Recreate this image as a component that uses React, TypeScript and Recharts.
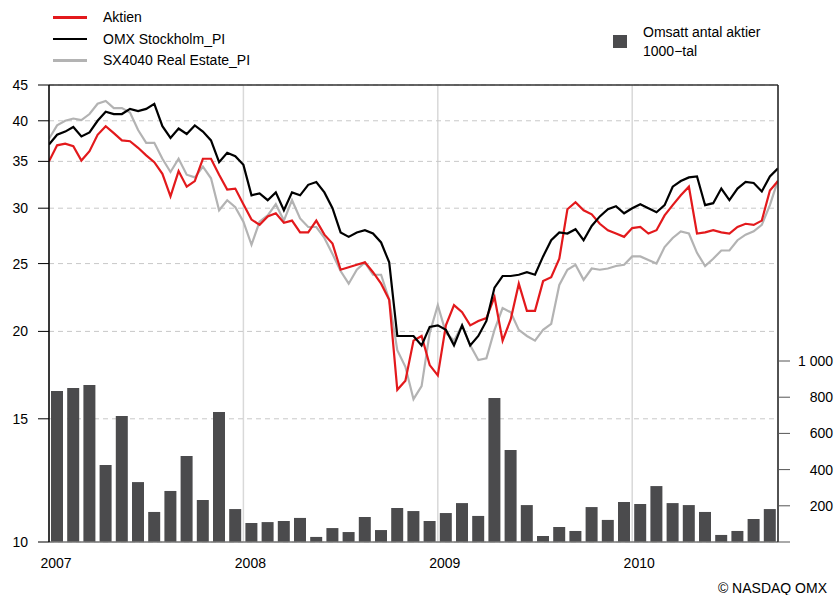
import {
  Bar,
  CartesianGrid,
  ComposedChart,
  Line,
  ReferenceLine,
  XAxis,
  YAxis,
} from 'recharts'

// half-month samples, Jan 2007 -> end of Sep 2010
const aktien = [
  35.0, 36.9, 37.1, 36.8, 35.1, 36.2, 38.2, 39.3, 38.4, 37.5,
  37.4, 36.6, 35.7, 34.9, 33.6, 31.2, 33.9, 32.2, 32.8, 35.3,
  35.3, 33.5, 31.9, 32.0, 30.4, 28.9, 28.4, 29.2, 29.5, 28.6,
  28.8, 27.7, 27.7, 28.8, 27.5, 26.7, 24.5, 24.7, 24.9, 25.1,
  24.3, 23.4, 22.2, 16.5, 17.0, 19.4, 19.7, 17.9, 17.3, 20.4,
  21.8, 21.3, 20.4, 20.7, 20.9, 22.4, 19.4, 20.8, 23.4, 21.4,
  21.4, 23.6, 23.9, 25.4, 29.9, 30.6, 29.8, 29.4, 28.5, 27.9,
  27.6, 27.3, 28.1, 28.2, 27.6, 27.9, 29.3, 30.3, 31.3, 32.2,
  27.6, 27.7, 27.9, 27.7, 27.6, 28.2, 28.5, 28.4, 28.8, 31.8,
  32.8,
]

const omx = [
  37.0, 38.2, 38.6, 39.2, 38.0, 38.5, 40.0, 41.2, 40.9, 40.9,
  41.6, 41.3, 41.6, 42.3, 39.3, 37.8, 39.0, 38.3, 39.4, 38.6,
  37.5, 34.9, 36.0, 35.6, 34.6, 31.3, 31.5, 30.8, 31.6, 29.8,
  31.6, 31.3, 32.4, 32.7, 31.6, 30.0, 27.7, 27.3, 27.7, 27.9,
  27.6, 26.8, 25.1, 19.7, 19.7, 19.7, 19.1, 20.3, 20.4, 20.1,
  19.1, 20.4, 19.1, 19.7, 20.7, 23.1, 24.0, 24.0, 24.1, 24.3,
  24.1, 25.6, 27.0, 27.7, 27.6, 28.0, 27.0, 28.3, 29.2, 29.9,
  30.2, 29.5, 30.0, 30.4, 30.0, 29.6, 30.3, 32.2, 32.8, 33.2,
  33.3, 30.3, 30.5, 32.0, 30.8, 32.0, 32.7, 32.6, 31.7, 33.3,
  34.2,
]

const sx4040 = [
  37.7, 39.4, 40.0, 40.3, 40.1, 40.9, 42.3, 42.7, 41.7, 41.7,
  41.1, 38.8, 37.2, 37.2, 35.3, 33.8, 35.3, 33.5, 33.2, 34.4,
  33.1, 29.8, 30.8, 30.1, 28.7, 26.6, 28.7, 29.3, 30.4, 28.8,
  30.8, 29.0, 28.2, 28.2, 27.2, 25.8, 24.4, 23.4, 24.5, 25.1,
  24.1, 24.1, 22.2, 18.8, 17.8, 16.0, 16.7, 19.9, 21.8, 19.9,
  19.4, 20.4, 19.1, 18.2, 18.3, 20.1, 21.6, 21.3, 20.1, 19.7,
  19.4, 20.1, 20.5, 23.3, 24.5, 24.9, 23.7, 24.6, 24.5, 24.6,
  24.8, 24.9, 25.6, 25.6, 25.3, 25.0, 26.4, 27.2, 27.8, 27.6,
  25.9, 24.8, 25.4, 26.1, 26.1, 27.0, 27.5, 27.8, 28.4, 30.3,
  32.9,
]

// monthly turnover, 1000s of shares
const volume = [
  834, 851, 867, 425, 696, 331, 166, 282, 475, 232, 718, 182,
  105, 110, 116, 133, 28, 77, 55, 138, 66, 188, 171, 116,
  160, 215, 144, 796, 508, 204, 33, 83, 61, 193, 122, 221,
  210, 309, 215, 204, 166, 39, 61, 127, 182,
]

const yearTicks = [0, 12, 24, 36]
const yearLabels = ['2007', '2008', '2009', '2010']
const leftTicks = [10, 15, 20, 25, 30, 35, 40, 45]
const rightTicks = [0, 200, 400, 600, 800, 1000]

const data = aktien.map((v, k) => ({
  t: k / 2,
  bt: k % 2 === 1 ? k / 2 : undefined,
  aktien: v,
  omx: omx[k],
  sx: sx4040[k],
  vol: k % 2 === 1 ? volume[(k - 1) / 2] : undefined,
}))

const FONT = '"Liberation Sans", Arial, sans-serif'

function YearTick(props: any) {
  const { x, y, payload } = props
  const i = yearTicks.indexOf(payload.value)
  return (
    <text x={x + 7} y={y + 18} textAnchor="middle" fontSize={14} fill="#000" fontFamily={FONT}>
      {yearLabels[i]}
    </text>
  )
}

function RightTick(props: any) {
  const { x, y, payload } = props
  if (payload.value === 0) return <g />
  const label = String(payload.value).replace(/\B(?=(\d{3})+(?!\d))/g, ' ')
  return (
    <text x={x + 41} y={y} dy="0.35em" textAnchor="end" fontSize={14} fill="#000" fontFamily={FONT}>
      {label}
    </text>
  )
}

const legendLines = [
  { name: 'Aktien', color: '#e3191c' },
  { name: 'OMX Stockholm_PI', color: '#000000' },
  { name: 'SX4040 Real Estate_PI', color: '#b3b3b3' },
]

export default function App() {
  return (
    <div
      style={{
        position: 'absolute',
        left: 0,
        top: 0,
        width: 840,
        height: 595,
        background: '#fff',
        fontFamily: FONT,
        color: '#000',
      }}
    >
      <ComposedChart
        width={840}
        height={595}
        data={data}
        margin={{ top: 85, right: 0, bottom: 0, left: 0 }}
      >
        <CartesianGrid yAxisId="left" horizontal={false} stroke="#d9d9d9" strokeWidth={1.5} />
        <CartesianGrid
          yAxisId="left"
          vertical={false}
          stroke="#c8c8c8"
          strokeDasharray="5 4"
        />
        <XAxis
          dataKey="t"
          type="number"
          domain={[0, 45]}
          ticks={yearTicks}
          interval={0}
          height={53}
          allowDataOverflow
          axisLine={{ stroke: '#777', strokeWidth: 1.5 }}
          tickLine={false}
          tick={<YearTick />}
        />
        <XAxis
          xAxisId="bars"
          dataKey="bt"
          type="number"
          domain={[0, 45]}
          allowDataOverflow
          hide
        />
        <YAxis
          yAxisId="left"
          scale="log"
          domain={[10, 45]}
          ticks={leftTicks}
          interval={0}
          allowDataOverflow
          width={49}
          tickSize={11}
          tickMargin={10}
          axisLine={{ stroke: '#000', strokeWidth: 1.5 }}
          tickLine={{ stroke: '#000' }}
          tick={{ fill: '#000', fontSize: 14, fontFamily: FONT }}
        />
        <YAxis
          yAxisId="right"
          orientation="right"
          domain={[0, 2525]}
          ticks={rightTicks}
          interval={0}
          allowDataOverflow
          width={62}
          tickSize={12}
          axisLine={{ stroke: '#222', strokeWidth: 1.5 }}
          tickLine={{ stroke: '#555' }}
          tick={<RightTick />}
        />
        <ReferenceLine yAxisId="left" y={45} stroke="#333" strokeWidth={1.5} />
        <Bar
          xAxisId="bars"
          yAxisId="right"
          dataKey="vol"
          fill="#4b4b4d"
          barSize={12}
          isAnimationActive={false}
        />
        <Line
          yAxisId="left"
          dataKey="sx"
          stroke="#b3b3b3"
          strokeWidth={2.2}
          dot={false}
          isAnimationActive={false}
        />
        <Line
          yAxisId="left"
          dataKey="aktien"
          stroke="#e3191c"
          strokeWidth={2.2}
          dot={false}
          isAnimationActive={false}
        />
        <Line
          yAxisId="left"
          dataKey="omx"
          stroke="#000"
          strokeWidth={2.2}
          dot={false}
          isAnimationActive={false}
        />
      </ComposedChart>

      {legendLines.map((l, i) => (
        <div key={l.name}>
          <div
            style={{
              position: 'absolute',
              left: 53,
              top: 16 + i * 21.5,
              width: 34,
              height: 2.5,
              background: l.color,
            }}
          />
          <div
            style={{
              position: 'absolute',
              left: 103,
              top: 8 + i * 21.5,
              fontSize: 14,
              lineHeight: '18px',
              whiteSpace: 'nowrap',
            }}
          >
            {l.name}
          </div>
        </div>
      ))}

      <div
        style={{
          position: 'absolute',
          left: 613,
          top: 35,
          width: 14,
          height: 13,
          background: '#4b4b4d',
        }}
      />
      <div
        style={{
          position: 'absolute',
          left: 643,
          top: 23,
          fontSize: 14,
          lineHeight: '19px',
          whiteSpace: 'nowrap',
        }}
      >
        Omsatt antal aktier
        <br />
        1000−tal
      </div>

      <div
        style={{
          position: 'absolute',
          right: 13,
          top: 579,
          fontSize: 14,
          lineHeight: '18px',
          whiteSpace: 'nowrap',
        }}
      >
        © NASDAQ OMX
      </div>
    </div>
  )
}
